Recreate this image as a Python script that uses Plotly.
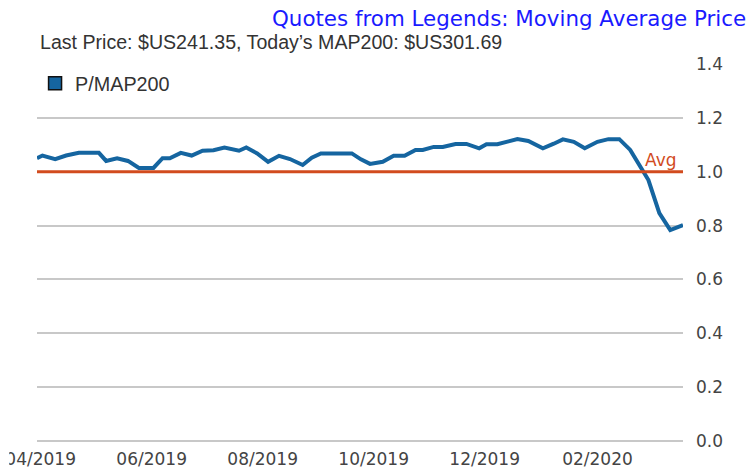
import plotly.graph_objects as go

# ---- data ----
dates = [
    "2019-03-30", "2019-04-02", "2019-04-09", "2019-04-15", "2019-04-22", "2019-04-27",
    "2019-05-03", "2019-05-07", "2019-05-13", "2019-05-19", "2019-05-25", "2019-06-02",
    "2019-06-07", "2019-06-11", "2019-06-17", "2019-06-23", "2019-06-29", "2019-07-05",
    "2019-07-11", "2019-07-19", "2019-07-23", "2019-07-29", "2019-08-04", "2019-08-10",
    "2019-08-16", "2019-08-23", "2019-08-28", "2019-09-02", "2019-09-07", "2019-09-13",
    "2019-09-19", "2019-09-24", "2019-09-29", "2019-10-06", "2019-10-12", "2019-10-18",
    "2019-10-24", "2019-10-28", "2019-11-03", "2019-11-08", "2019-11-15", "2019-11-21",
    "2019-11-28", "2019-12-02", "2019-12-08", "2019-12-13", "2019-12-19", "2019-12-25",
    "2020-01-02", "2020-01-08", "2020-01-13", "2020-01-19", "2020-01-25", "2020-02-01",
    "2020-02-07", "2020-02-13", "2020-02-19", "2020-02-29", "2020-03-06", "2020-03-12",
    "2020-03-19",
]
p_map200 = [
    1.05, 1.06, 1.047, 1.06, 1.07, 1.07,
    1.07, 1.04, 1.05, 1.04, 1.014, 1.014,
    1.05, 1.05, 1.07, 1.06, 1.078, 1.08,
    1.09, 1.078, 1.09, 1.068, 1.037, 1.059,
    1.047, 1.025, 1.052, 1.068, 1.068, 1.068,
    1.068, 1.046, 1.029, 1.037, 1.059, 1.059,
    1.081, 1.081, 1.092, 1.092, 1.103, 1.103,
    1.087, 1.102, 1.102, 1.111, 1.121, 1.114,
    1.087, 1.104, 1.12, 1.111, 1.087, 1.111,
    1.121, 1.121, 1.081, 0.969, 0.846, 0.783,
    0.802,
]
avg_level = 1.0
x_range = ["2019-03-30", "2020-03-19"]
y_range = [0, 1.4]

title_text = "Quotes from Legends: Moving Average Price"
subtitle_text = "Last Price: $US241.35, Today\u2019s MAP200: $US301.69"
series_name = "P/MAP200"
avg_label = "Avg"

BLUE = "#1565a0"
ORANGE = "#d24b1e"
GRID = "#c8c8c8"
TICK = "#444444"

fig = go.Figure()
fig.add_trace(go.Scatter(
    x=dates, y=p_map200, mode="lines",
    line=dict(color=BLUE, width=4),
    showlegend=False, hoverinfo="x+y",
))
# legend entry drawn as a square swatch
fig.add_trace(go.Scatter(
    x=[None], y=[None], mode="markers", name=series_name,
    marker=dict(symbol="square", size=13, color=BLUE,
                line=dict(color="#111111", width=1.5)),
    showlegend=True,
))

fig.add_shape(type="line", xref="paper", x0=0, x1=1, yref="y",
              y0=avg_level, y1=avg_level,
              line=dict(color=ORANGE, width=3), layer="above")

# the reference crops the first tick label at the left edge of the image
fig.add_shape(type="rect", xref="paper", yref="paper",
              x0=-0.06, x1=-0.043, y0=-0.09, y1=-0.02,
              fillcolor="white", line=dict(width=0), layer="above")

fig.add_annotation(x=x_range[1], y=avg_level, xref="x", yref="y",
                   text=avg_label, showarrow=False,
                   xanchor="right", yanchor="bottom", xshift=-4, yshift=0,
                   font=dict(family="DejaVu Sans", size=17, color=ORANGE))

fig.add_annotation(x=1.1006, y=1.121, xref="paper", yref="paper",
                   text=title_text, showarrow=False,
                   xanchor="right", yanchor="middle",
                   font=dict(family="DejaVu Sans", size=21.4, color="#1a1aff"))
fig.add_annotation(x=0.0015, y=1.058, xref="paper", yref="paper",
                   text=subtitle_text, showarrow=False,
                   xanchor="left", yanchor="middle",
                   font=dict(family="Liberation Sans", size=19.6, color="#333333"))

fig.update_layout(
    width=753, height=474, autosize=False,
    margin=dict(l=37, r=70, t=64, b=33, autoexpand=False),
    paper_bgcolor="white", plot_bgcolor="white",
    showlegend=True,
    legend=dict(x=-0.003, y=1.0, xanchor="left", yanchor="top",
                bgcolor="rgba(0,0,0,0)",
                font=dict(family="Liberation Sans", size=19.8, color="#333333")),
    xaxis=dict(type="date", range=x_range, showgrid=False, zeroline=False,
               showline=False, ticks="", tickformat="%m/%Y", dtick="M2",
               tick0="2019-04-01", ticklabelstandoff=6, automargin=False,
               tickfont=dict(family="DejaVu Sans", size=17, color=TICK)),
    yaxis=dict(range=y_range, side="right", dtick=0.2, tickformat=".1f",
               showgrid=True, gridcolor=GRID, gridwidth=1.5,
               zeroline=True, zerolinecolor=GRID, zerolinewidth=1.5,
               showline=False, ticks="", ticklabelstandoff=12, automargin=False,
               tickfont=dict(family="DejaVu Sans", size=17, color=TICK)),
    hovermode="closest",
)

fig.write_html("out.html", config={"displayModeBar": False},
               post_script="document.body.style.margin='0';")
